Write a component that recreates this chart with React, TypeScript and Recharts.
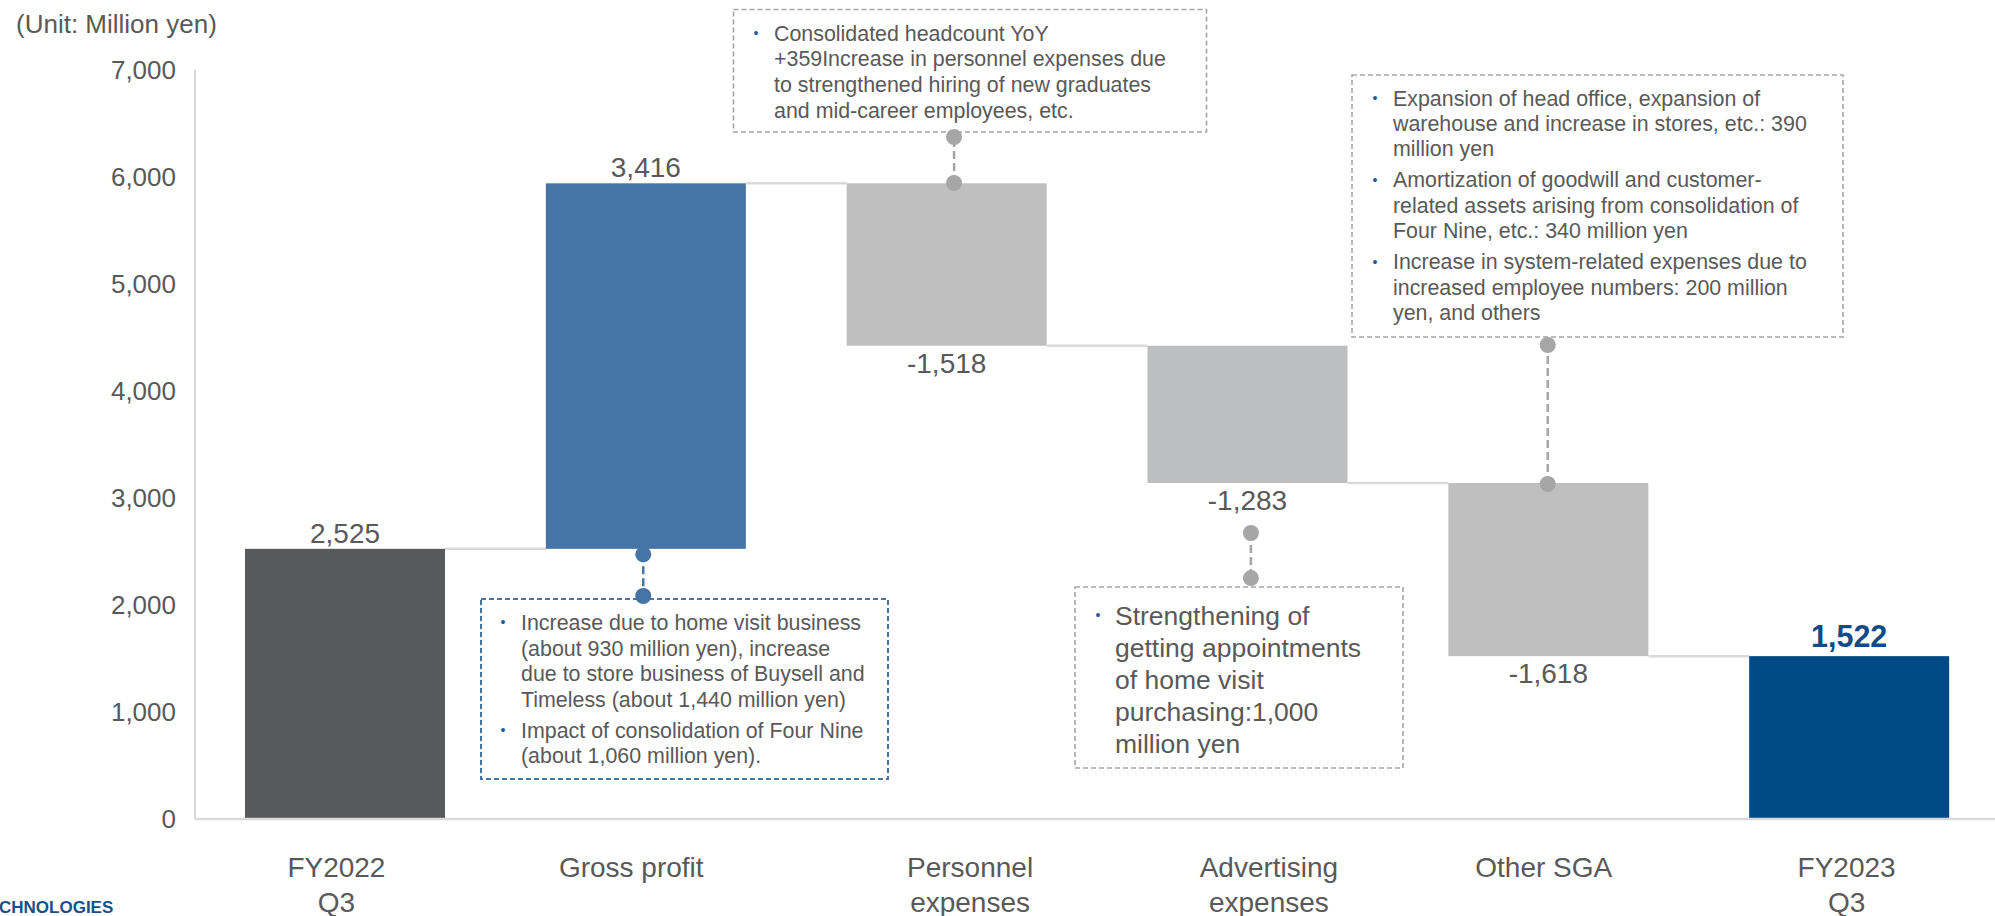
import React from 'react';
import {
  Bar,
  BarChart,
  LabelList,
  ReferenceDot,
  ReferenceLine,
  XAxis,
  YAxis,
} from 'recharts';

// Operating profit bridge, FY2022 Q3 -> FY2023 Q3 (million yen)
const categories = [
  'FY2022\nQ3',
  'Gross profit',
  'Personnel\nexpenses',
  'Advertising\nexpenses',
  'Other SGA',
  'FY2023\nQ3',
];
const changes = [2525, 3416, -1518, -1283, -1618, 1522];
const isTotal = [true, false, false, false, false, true];
const yTicks = [0, 1000, 2000, 3000, 4000, 5000, 6000, 7000];

// callout anchors: the two ends of each dashed leader, in yen
const calloutCategories = ['Gross profit', 'Personnel\nexpenses', 'Advertising\nexpenses', 'Other SGA'];
const calloutNear = [2474, 5944, 2673, 3131];
const calloutFar = [2084, 6374, 2252, 4430];

const grossProfitNotes = [
  [
    'Increase due to home visit business',
    '(about 930 million yen), increase',
    'due to store business of Buysell and',
    'Timeless (about 1,440 million yen)',
  ],
  ['Impact of consolidation of Four Nine', '(about 1,060 million yen).'],
];
const personnelNotes = [
  [
    'Consolidated headcount YoY',
    '+359Increase in personnel expenses due',
    'to strengthened hiring of new graduates',
    'and mid-career employees, etc.',
  ],
];
const advertisingNotes = [
  ['Strengthening of', 'getting appointments', 'of home visit', 'purchasing:1,000', 'million yen'],
];
const otherSgaNotes = [
  ['Expansion of head office, expansion of', 'warehouse and increase in stores, etc.: 390', 'million yen'],
  ['Amortization of goodwill and customer-', 'related assets arising from consolidation of', 'Four Nine, etc.: 340 million yen'],
  ['Increase in system-related expenses due to', 'increased employee numbers: 200 million', 'yen, and others'],
];

const FONT = '"Liberation Sans", Arial, sans-serif';
const TEXT = '#595959';
const BULLET = '#1f5c9c';
const AXIS = '#d9d9d9';
const BAR_COLORS = ['#58595b', '#4674a4', '#bfbfbf', '#bdbec0', '#bfbfbf', '#004a85'];
const CALLOUT_COLORS = ['#4674a4', '#a6a6a6', '#a6a6a6', '#a6a6a6'];
// leaders are nudged a few px off the bar centre
const CALLOUT_SHIFT = [-3, 7, 3, -1];

const CHART_W = 2000;
const CHART_H = 916;
const Y_AXIS_W = 195;
const BAND = (CHART_W - Y_AXIS_W) / categories.length;
// label blocks in the slide sit slightly off the bar centres
const TICK_SHIFT = [-9, -15, 23, 21, -5, -3];

// floating [low, high] ranges from the running total
let running = 0;
const rows = categories.map((name, i) => {
  const change = changes[i];
  let range: [number, number];
  if (isTotal[i]) {
    range = [0, change];
    running = change;
  } else {
    const end = running + change;
    range = [Math.min(running, end), Math.max(running, end)];
    running = end;
  }
  return { name, change, range };
});

function WaterfallBar(props: any) {
  const { x, y, width, height, index } = props;
  const row = rows[index];
  const endY = row.change >= 0 ? y : y + height;
  return (
    <g>
      <rect x={x} y={y} width={width} height={height} fill={BAR_COLORS[index]} />
      {index < rows.length - 1 && (
        <line x1={x + width} x2={x + BAND} y1={endY} y2={endY} stroke={AXIS} strokeWidth={2.5} />
      )}
    </g>
  );
}

function ValueLabel(props: any) {
  const { x, y, width, height, index } = props;
  const change = changes[index];
  const last = index === changes.length - 1;
  const ty = change >= 0 ? y - (last ? 9 : 6) : y + height + 27;
  return (
    <text
      x={x + width / 2}
      y={ty}
      textAnchor="middle"
      fontSize={last ? 30.5 : 28}
      fontWeight={last ? 'bold' : 'normal'}
      fill={last ? '#104b88' : TEXT}
    >
      {change.toLocaleString('en-US')}
    </text>
  );
}

function CategoryTick(props: any) {
  const { x, y, payload, index } = props;
  const i = typeof index === 'number' ? index : categories.indexOf(payload.value);
  const cx = x + (TICK_SHIFT[i] ?? 0);
  const lines = String(payload.value).split('\n');
  return (
    <text textAnchor="middle" fontSize={28} fill={TEXT}>
      {lines.map((l, k) => (
        <tspan key={k} x={cx} y={y + 56 + k * 35}>
          {l}
        </tspan>
      ))}
    </text>
  );
}

type BoxStyle = {
  left: number;
  top: number;
  width: number;
  height: number;
  textX: number;
  bulletX: number;
  firstBaseline: number;
  lineHeight: number;
  paraGap: number;
  fontSize: number;
  stroke: string;
  strokeWidth: number;
};

const BOXES: BoxStyle[] = [
  { left: 481, top: 599, width: 407, height: 180, textX: 521, bulletX: 503, firstBaseline: 630, lineHeight: 25.5, paraGap: 5.5, fontSize: 21.4, stroke: '#4674a4', strokeWidth: 2 },
  { left: 733.5, top: 9.5, width: 473, height: 122.5, textX: 774, bulletX: 756, firstBaseline: 40.6, lineHeight: 25.7, paraGap: 0, fontSize: 21.4, stroke: '#a6a6a6', strokeWidth: 1.6 },
  { left: 1075, top: 587, width: 328, height: 181, textX: 1115, bulletX: 1098, firstBaseline: 624.5, lineHeight: 32, paraGap: 0, fontSize: 26.5, stroke: '#a6a6a6', strokeWidth: 1.6 },
  { left: 1352, top: 75, width: 491, height: 262, textX: 1393, bulletX: 1375, firstBaseline: 105.5, lineHeight: 25.2, paraGap: 6.3, fontSize: 21.4, stroke: '#a6a6a6', strokeWidth: 1.6 },
];
const BOX_NOTES = [grossProfitNotes, personnelNotes, advertisingNotes, otherSgaNotes];

function NoteBox({ box, notes }: { box: BoxStyle; notes: string[][] }) {
  const parts: React.ReactNode[] = [];
  let baseline = box.firstBaseline;
  notes.forEach((para, p) => {
    if (p > 0) baseline += box.paraGap;
    para.forEach((line, k) => {
      if (k === 0) {
        parts.push(
          <text
            key={`b${p}`}
            x={box.bulletX}
            y={baseline - box.fontSize * 0.35 + 4.9}
            textAnchor="middle"
            fontSize={14}
            fill={BULLET}
          >
            •
          </text>
        );
      }
      parts.push(
        <text key={`t${p}-${k}`} x={box.textX} y={baseline} fontSize={box.fontSize} fill={TEXT}>
          {line}
        </text>
      );
      baseline += box.lineHeight;
    });
  });
  return (
    <g>
      <rect
        x={box.left}
        y={box.top}
        width={box.width}
        height={box.height}
        fill="none"
        stroke={box.stroke}
        strokeWidth={box.strokeWidth}
        strokeDasharray="5 3"
      />
      {parts}
    </g>
  );
}

export default function App() {
  return (
    <div
      style={{
        position: 'absolute',
        left: 0,
        top: 0,
        width: 1995,
        height: CHART_H,
        overflow: 'hidden',
        background: '#fff',
        fontFamily: FONT,
      }}
    >
      <BarChart
        width={CHART_W}
        height={CHART_H}
        data={rows}
        margin={{ top: 70, right: 0, bottom: 0, left: 0 }}
        barSize={200}
      >
        <XAxis
          dataKey="name"
          interval={0}
          height={97}
          tickLine={false}
          tickSize={0}
          axisLine={{ stroke: AXIS, strokeWidth: 2.5 }}
          tick={<CategoryTick />}
        />
        <YAxis
          domain={[0, 7000]}
          ticks={yTicks}
          width={Y_AXIS_W}
          tickLine={false}
          tickSize={0}
          tickMargin={19}
          axisLine={{ stroke: AXIS, strokeWidth: 2 }}
          tick={{ fontSize: 26, fill: TEXT }}
          tickFormatter={(v) => Number(v).toLocaleString('en-US')}
        />
        <Bar dataKey="range" shape={<WaterfallBar />} isAnimationActive={false}>
          <LabelList dataKey="change" content={<ValueLabel />} />
        </Bar>
        {calloutCategories.map((c, i) => (
          <ReferenceLine
            key={`l${i}`}
            segment={[
              { x: c, y: calloutNear[i] },
              { x: c, y: calloutFar[i] },
            ]}
            shape={(p: any) => (
              <line
                x1={p.x1 + CALLOUT_SHIFT[i]}
                y1={p.y1}
                x2={p.x2 + CALLOUT_SHIFT[i]}
                y2={p.y2}
                stroke={CALLOUT_COLORS[i]}
                strokeWidth={2.5}
                strokeDasharray="8 4"
              />
            )}
          />
        ))}
        {calloutCategories.map((c, i) =>
          [calloutNear[i], calloutFar[i]].map((v, k) => (
            <ReferenceDot
              key={`d${i}-${k}`}
              x={c}
              y={v}
              r={8}
              shape={(p: any) => (
                <circle cx={p.cx + CALLOUT_SHIFT[i]} cy={p.cy} r={8} fill={CALLOUT_COLORS[i]} />
              )}
            />
          ))
        )}
      </BarChart>
      <svg
        width={1995}
        height={CHART_H}
        style={{ position: 'absolute', left: 0, top: 0, pointerEvents: 'none' }}
      >
        <text x={16} y={33} fontSize={26} fill={TEXT}>
          (Unit: Million yen)
        </text>
        <text x={-1} y={913} fontSize={17} fontWeight="bold" fill="#1b4f8a">
          CHNOLOGIES
        </text>
        {BOXES.map((b, i) => (
          <NoteBox key={i} box={b} notes={BOX_NOTES[i]} />
        ))}
      </svg>
    </div>
  );
}
